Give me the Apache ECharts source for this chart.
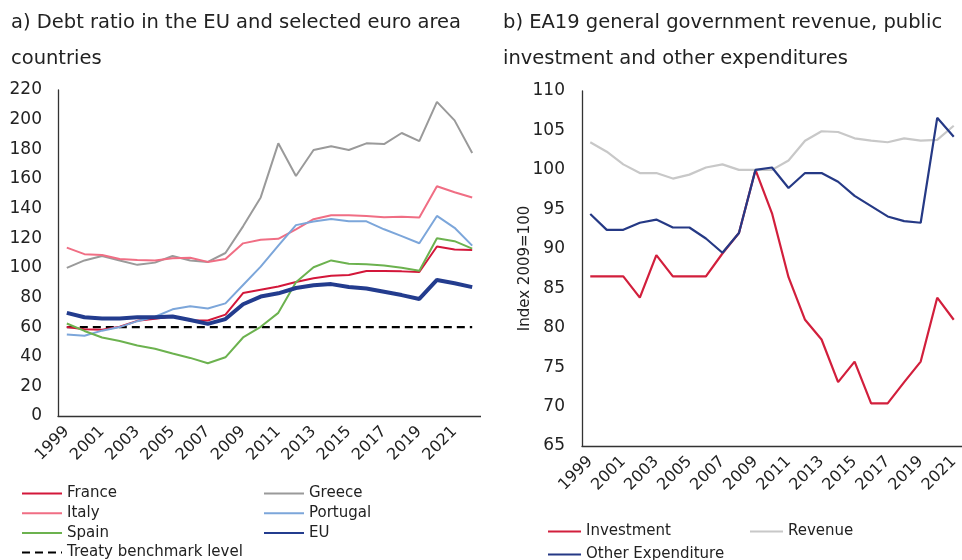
<!DOCTYPE html>
<html>
<head>
<meta charset="utf-8">
<script src="https://cdn.jsdelivr.net/npm/echarts@6/dist/echarts.min.js"></script>
<style>
  body { margin: 0; background: #fff; overflow: hidden; }
  #left { position: absolute; left: 0; top: 0; width: 481px; height: 640px; }
  #right { position: absolute; left: 490px; top: 0; width: 472px; height: 640px; }
</style>
</head>
<body>
<div id="left"></div>
<div id="right"></div>
<script>
// panel a: debt ratio, % of GDP
const yearsA = ['1999', '2000', '2001', '2002', '2003', '2004', '2005', '2006', '2007', '2008', '2009', '2010',
  '2011', '2012', '2013', '2014', '2015', '2016', '2017', '2018', '2019', '2020', '2021', '2022']
const france = [60, 58.6, 58.2, 60.2, 64.2, 65.6, 67.2, 64.4, 64.4, 68.4, 83, 85.2, 87.4, 90.4, 93, 94.6, 95.2, 97.8, 97.8, 97.6, 97.2, 114.4, 112.4, 112]
const greece = [100, 105, 108, 105, 102, 103.5, 108, 105, 104, 110, 128, 147.5, 184, 162, 179.5, 182, 179.5, 184, 183.5, 191, 185.5, 212, 199.5, 177.5]
const italy = [113.6, 109.2, 108.6, 106, 105.3, 105, 106.4, 106.8, 104, 106, 116.5, 119, 119.6, 126, 132.8, 135.5, 135.5, 135, 134.2, 134.4, 134, 155, 151, 147.4]
const portugal = [55, 54.2, 57.6, 60, 64, 67, 72, 74, 72.6, 76, 88.4, 100.8, 115, 128.8, 131.2, 133, 131.4, 131.4, 126, 121.4, 116.6, 135, 127, 115]
const spain = [62.4, 57.4, 53, 50.6, 47.6, 45.4, 42.2, 39.2, 35.6, 39.6, 53, 60.2, 69.6, 90.2, 100.4, 105, 102.8, 102.4, 101.6, 100, 98, 120, 118, 113]
const eu = [69.6, 66.6, 65.8, 65.8, 66.6, 66.6, 67.2, 64.8, 62.2, 65.4, 75.4, 80.6, 82.8, 86.4, 88.2, 89, 87, 86, 83.8, 81.6, 79, 91.8, 89.6, 87]
const treaty = [60, 60, 60, 60, 60, 60, 60, 60, 60, 60, 60, 60, 60, 60, 60, 60, 60, 60, 60, 60, 60, 60, 60, 60]

// panel b: index 2009=100
const yearsB = ['1999', '2000', '2001', '2002', '2003', '2004', '2005', '2006', '2007', '2008', '2009', '2010',
  '2011', '2012', '2013', '2014', '2015', '2016', '2017', '2018', '2019', '2020', '2021']
const investment = [86.5, 86.5, 86.5, 83.8, 89.2, 86.5, 86.5, 86.5, 89.4, 92, 100, 94.5, 86.4, 81, 78.5, 73.1, 75.7, 70.4, 70.4, 73.1, 75.7, 83.8, 81]
const revenue = [103.5, 102.3, 100.7, 99.6, 99.6, 98.9, 99.4, 100.3, 100.7, 100, 100, 100, 101.2, 103.7, 104.9, 104.8, 104, 103.7, 103.5, 104, 103.7, 103.8, 105.6]
const otherExp = [94.4, 92.4, 92.4, 93.3, 93.7, 92.7, 92.7, 91.3, 89.5, 92, 100, 100.3, 97.7, 99.6, 99.6, 98.5, 96.7, 95.4, 94.1, 93.5, 93.3, 106.6, 104.2]

const font = 'DejaVu Sans'
const ink = '#222'

function line(name, data, color, width, dashed) {
  return {
    name: name,
    type: 'line',
    data: data,
    symbol: 'none',
    lineStyle: { color: color, width: width, type: dashed ? [8, 5] : 'solid' },
    itemStyle: { color: color }
  }
}

function legend(names, left, top, w, gap) {
  return {
    data: names,
    orient: 'vertical',
    left: left,
    top: top,
    height: 120,
    itemWidth: w,
    itemHeight: 14,
    itemGap: gap,
    selectedMode: false,
    itemStyle: { opacity: 0 },
    textStyle: { fontFamily: font, fontSize: 15, color: ink }
  }
}

function xAxis(years) {
  return {
    type: 'category',
    data: years,
    boundaryGap: true,
    axisLine: { lineStyle: { color: '#333', width: 1.3 } },
    axisTick: { show: false },
    axisLabel: { interval: 1, rotate: 45, margin: 13, fontFamily: font, fontSize: 16, color: ink }
  }
}

const left = echarts.init(document.getElementById('left'))
left.setOption({
  animation: false,
  title: {
    text: 'a) Debt ratio in the EU and selected euro area\ncountries',
    left: 6, top: 0,
    textStyle: { fontFamily: font, fontSize: 19.5, fontWeight: 'normal', color: ink, lineHeight: 36 }
  },
  legend: [
    legend(['France', 'Italy', 'Spain', 'Treaty benchmark level'], 16, 481, 40, 4.7),
    legend(['Greece', 'Portugal', 'EU'], 258, 481, 40, 4.7)
  ],
  grid: { left: 58, top: 90, height: 326, width: 430 },
  xAxis: xAxis(yearsA),
  yAxis: {
    type: 'value', min: 0, max: 220, interval: 20,
    axisLine: { show: true, lineStyle: { color: '#333', width: 1.3 } },
    axisTick: { show: false },
    splitLine: { show: false },
    axisLabel: { margin: 16, fontFamily: font, fontSize: 17, color: ink }
  },
  series: [
    line('Treaty benchmark level', treaty, '#000', 2.4, true),
    line('France', france, '#d3173a', 2),
    line('Greece', greece, '#9a9a9a', 2),
    line('Italy', italy, '#f06e84', 2),
    line('Portugal', portugal, '#7ca6da', 2),
    line('Spain', spain, '#6cb24f', 2),
    line('EU', eu, '#233c8e', 4)
  ]
})

const right = echarts.init(document.getElementById('right'))
right.setOption({
  animation: false,
  title: {
    text: 'b) EA19 general government revenue, public\ninvestment and other expenditures',
    left: 8, top: 0,
    textStyle: { fontFamily: font, fontSize: 19.5, fontWeight: 'normal', color: ink, lineHeight: 36 }
  },
  legend: [
    legend(['Investment', 'Other Expenditure'], 52, 519, 33, 8),
    legend(['Revenue'], 254, 519, 33, 8)
  ],
  grid: { left: 92, top: 91, height: 355, width: 383 },
  xAxis: xAxis(yearsB),
  yAxis: {
    type: 'value', min: 65, max: 110, interval: 5,
    name: 'Index 2009=100',
    nameLocation: 'middle',
    nameGap: 49,
    nameRotate: 90,
    nameMoveOverlap: false,
    nameTextStyle: { fontFamily: font, fontSize: 15, color: ink },
    axisLine: { show: true, lineStyle: { color: '#333', width: 1.3 } },
    axisTick: { show: false },
    splitLine: { show: false },
    axisLabel: { margin: 17, fontFamily: font, fontSize: 17, color: ink }
  },
  series: [
    line('Investment', investment, '#d21f3c', 2.2),
    line('Revenue', revenue, '#c8c8c8', 2.2),
    line('Other Expenditure', otherExp, '#253985', 2.2)
  ]
})
</script>
</body>
</html>
